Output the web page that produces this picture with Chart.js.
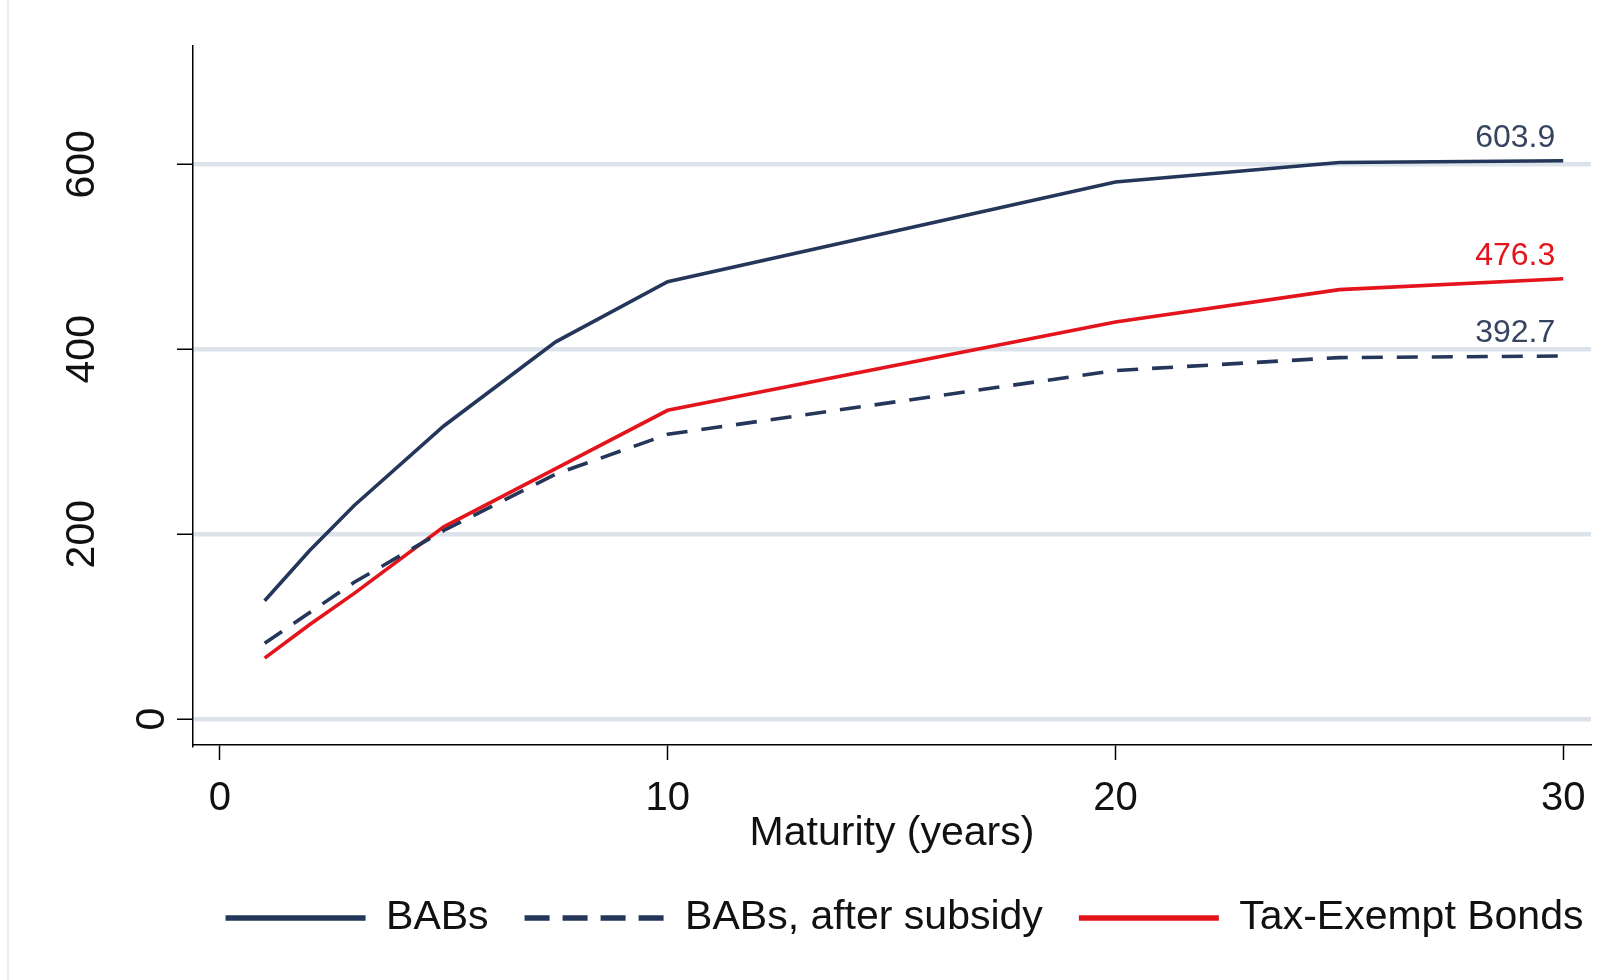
<!DOCTYPE html>
<html>
<head>
<meta charset="utf-8">
<script src="https://cdn.jsdelivr.net/npm/chart.js@4.4.0/dist/chart.umd.min.js"></script>
<style>
  body { margin: 0; background: #fff; }
  #wrap { position: relative; width: 1618px; height: 980px; }
  #edge { position: absolute; left: 7px; top: 0; width: 2px; height: 980px; background: #ececec; }
</style>
</head>
<body>
<div id="wrap">
  <div id="edge"></div>
  <canvas id="yieldChart" width="1618" height="980"></canvas>
</div>
<script>
// maturities in years
const maturities = [1, 2, 3, 5, 7.5, 10, 20, 25, 30];
const babs = [128, 182, 231, 317, 408, 473, 581, 602, 603.9];
const babsAfterSubsidy = [82, 115, 148, 204, 265, 308, 377, 391, 392.7];
const taxExempt = [66, 102, 136, 208, 271, 334, 429.5, 464.5, 476.3];

const seriesNames = ["BABs", "BABs, after subsidy", "Tax-Exempt Bonds"];
const xTicks = [0, 10, 20, 30];
const yTicks = [0, 200, 400, 600];

const NAVY = "#243659";
const RED = "#e3141b";
const FONT = '"Liberation Sans", Arial, sans-serif';

function points(values) {
	return values.map((v, i) => ({ x: maturities[i], y: v }));
}

// rotated y tick labels, placed like the stata output
const yLabels = {
	id: "yLabels",
	afterDraw(chart) {
		const { ctx, chartArea } = chart;
		const y = chart.scales.y;
		ctx.save();
		ctx.font = "41px " + FONT;
		ctx.fillStyle = "#111";
		ctx.textAlign = "center";
		ctx.textBaseline = "middle";
		yTicks.forEach((v) => {
			const label = String(v);
			const cx = chartArea.left - 40 - (label.length - 1) * 35;
			ctx.save();
			ctx.translate(cx, y.getPixelForValue(v));
			ctx.rotate(-Math.PI / 2);
			ctx.fillText(label, 0, 0);
			ctx.restore();
		});
		ctx.restore();
	},
};

// value label above the last point of each line
const endLabels = {
	id: "endLabels",
	afterDatasetsDraw(chart) {
		const { ctx } = chart;
		ctx.save();
		ctx.font = "32px " + FONT;
		ctx.textAlign = "right";
		ctx.textBaseline = "middle";
		chart.data.datasets.forEach((ds, i) => {
			const meta = chart.getDatasetMeta(i);
			const last = meta.data[meta.data.length - 1];
			const value = ds.data[ds.data.length - 1].y;
			ctx.fillStyle = ds.labelColor;
			ctx.fillText(value.toFixed(1), last.x - 8, last.y - 23);
		});
		ctx.restore();
	},
};

// nudge the legend row to where stata puts it
const legendShift = {
	id: "legendShift",
	afterLayout(chart) {
		const lg = chart.legend;
		if (!lg) return;
		lg.left += 109;
		lg.right += 109;
		lg.top += 2;
		lg.bottom += 2;
	},
};

new Chart(document.getElementById("yieldChart"), {
	type: "line",
	data: {
		datasets: [
			{
				label: seriesNames[0],
				data: points(babs),
				borderColor: NAVY,
				borderWidth: 3.6,
				pointRadius: 0,
				tension: 0,
				labelColor: "#36445f",
			},
			{
				label: seriesNames[1],
				data: points(babsAfterSubsidy),
				borderColor: NAVY,
				borderWidth: 3.6,
				borderDash: [21, 14],
				pointRadius: 0,
				tension: 0,
				labelColor: "#36445f",
			},
			{
				label: seriesNames[2],
				data: points(taxExempt),
				borderColor: RED,
				borderWidth: 3.6,
				pointRadius: 0,
				tension: 0,
				labelColor: RED,
			},
		],
	},
	options: {
		responsive: false,
		animation: false,
		devicePixelRatio: 1,
		layout: { padding: { left: 0, right: 27, top: 46, bottom: 33.5 } },
		scales: {
			x: {
				type: "linear",
				min: -0.6,
				max: 30.62,
				afterBuildTicks: (s) => {
					s.ticks = xTicks.map((v) => ({ value: v }));
				},
				afterFit: (s) => {
					s.height = 114.5;
				},
				ticks: {
					color: "#111",
					font: { family: FONT, size: 40 },
					padding: 15,
					maxRotation: 0,
				},
				grid: {
					drawOnChartArea: false,
					drawTicks: true,
					tickLength: 15,
					tickColor: "#000",
					tickWidth: 1.5,
				},
				border: { display: true, color: "#000", width: 1.5 },
				title: {
					display: true,
					text: "Maturity (years)",
					color: "#111",
					font: { family: FONT, size: 41 },
					padding: { top: 0, bottom: 1 },
				},
			},
			y: {
				type: "linear",
				min: -28,
				max: 728,
				afterBuildTicks: (s) => {
					s.ticks = yTicks.map((v) => ({ value: v }));
				},
				afterFit: (s) => {
					s.width = 193;
				},
				ticks: { display: false },
				grid: {
					color: "#dde3eb",
					lineWidth: 4.5,
					drawTicks: true,
					tickLength: 16,
					tickColor: "#000",
					tickWidth: 1.5,
				},
				border: { display: true, color: "#000", width: 1.5 },
			},
		},
		plugins: {
			tooltip: { enabled: false },
			legend: {
				position: "bottom",
				align: "center",
				fullSize: true,
				labels: {
					usePointStyle: true,
					pointStyle: "line",
					pointStyleWidth: 140,
					padding: 36,
					color: "#111",
					font: { family: FONT, size: 41 },
					generateLabels(chart) {
						const items = Chart.defaults.plugins.legend.labels.generateLabels(chart);
						items.forEach((it) => {
							const ds = chart.data.datasets[it.datasetIndex];
							it.lineWidth = 5.5;
							it.lineDash = ds.borderDash ? [25, 13] : [];
						});
						return items;
					},
				},
			},
		},
	},
	plugins: [yLabels, endLabels, legendShift],
});
</script>
</body>
</html>
